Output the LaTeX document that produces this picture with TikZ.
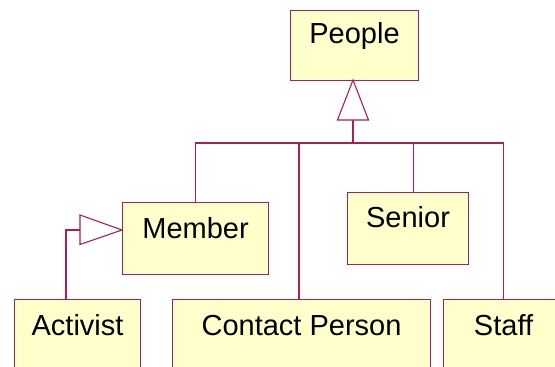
\documentclass[tikz,border=0pt]{standalone}
\usepackage{fontspec}
\setmainfont{Liberation Sans}
\definecolor{umlline}{RGB}{168,32,84}
\definecolor{umlfill}{RGB}{255,255,204}
\begin{document}
\begin{tikzpicture}[x=1pt,y=-1pt,
  cls/.style={draw=umlline, fill=umlfill, line width=1.1pt, inner sep=0pt,
    anchor=north west, font=\fontsize{29}{34}\selectfont},
  conn/.style={draw=umlline, line width=1.1pt},
  gen/.style={draw=umlline, fill=white, line width=1.1pt, line join=miter}]
\useasboundingbox (0,0) rectangle (555,367);

% classes
\node[cls, minimum width=128pt, text height=33pt, text depth=37pt]   (people)   at (290,10)  {People};
\node[cls, minimum width=146pt, text height=36pt, text depth=36pt]   (member)   at (122,202) {Member};
\node[cls, minimum width=121pt, text height=35pt, text depth=36.5pt] (senior)   at (347,192) {Senior};
\node[cls, minimum width=126pt, text height=36pt, text depth=50pt]   (activist) at (14,299)  {Activist};
\node[cls, minimum width=258pt, text height=36pt, text depth=50pt]   (contact)  at (172,299) {Contact Person};
\node[cls, minimum width=120pt, text height=36pt, text depth=50pt]   (staff)    at (443,299) {Staff};

% attachment points
\coordinate (pApex)  at (353,80);
\coordinate (pBase)  at (353,120);
\coordinate (hub)    at (353,143);
\coordinate (cTop)   at (299,299);
\coordinate (sTop)   at (413.5,192);
\coordinate (mApex)  at (122,230);
\coordinate (mBase)  at (80,230);
\coordinate (aBend)  at (66,230);
\coordinate (aTop)   at (66,299);

% generalisation towards People
\draw[conn] (member.north) |- (hub) -| (staff.north);
\draw[conn] (cTop) -- (cTop |- hub);
\draw[conn] (sTop) -- (sTop |- hub);
\draw[conn] (pBase) -- (hub);
\draw[gen] (pApex) -- ++(-15.5,40) -- ++(31,0) -- cycle;

% generalisation towards Member
\draw[conn] (aTop) -- (aBend) -- (mBase);
\draw[gen] (mApex) -- ++(-42,-15) -- ++(0,29.5) -- cycle;
\end{tikzpicture}
\end{document}
